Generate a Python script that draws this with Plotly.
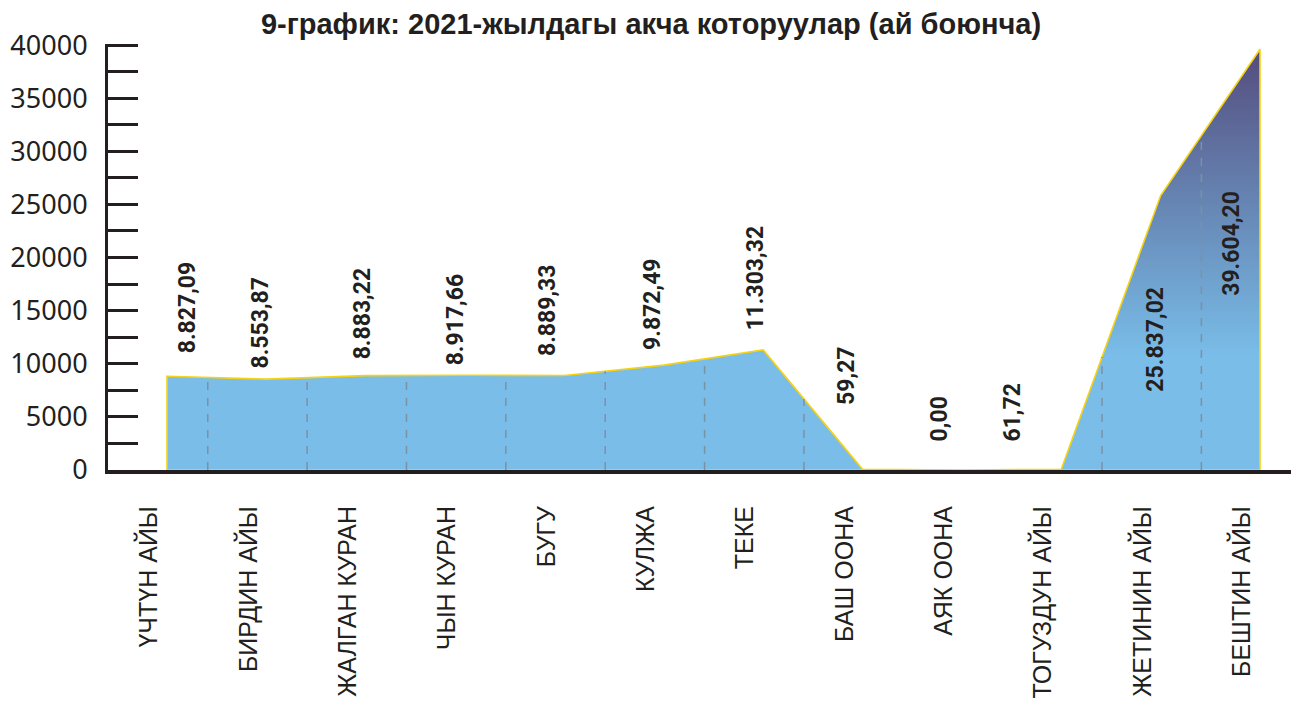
import numpy as np
import plotly.graph_objects as go

# ---- data ----
categories = ["ҮЧТҮН АЙЫ", "БИРДИН АЙЫ", "ЖАЛГАН КУРАН", "ЧЫН КУРАН", "БУГУ", "КУЛЖА",
              "ТЕКЕ", "БАШ ООНА", "АЯК ООНА", "ТОГУЗДУН АЙЫ", "ЖЕТИНИН АЙЫ", "БЕШТИН АЙЫ"]
values = [8827.09, 8553.87, 8883.22, 8917.66, 8889.33, 9872.49,
          11303.32, 59.27, 0.00, 61.72, 25837.02, 39604.20]
y_tickvals = [0, 5000, 10000, 15000, 20000, 25000, 30000, 35000, 40000]
y_ticktext = ["0", "5000", "10000", "15000", "20000", "25000", "30000", "35000", "40000"]
title_text = "9-график: 2021-жылдагы акча которуулар (ай боюнча)"

# ---- styles ----
label_dx = [20, -6, -3, -10, -17, -12, -8, -16, -22, -49, -6, -28]
label_dy = [21, 9, 14, 8, 18, 13, 17, 62, 27, 26, -198, -249]
grid_offset = 0.41
ink = "#231f20"

idx = list(range(len(values)))

def fmt(v):
    s = f"{v:,.2f}"
    return s.replace(",", "X").replace(".", ",").replace("X", ".")

fig = go.Figure()

# closed area polygon
px = [idx[0]] + idx + [idx[-1], idx[0]]
py = [0] + values + [0, 0]
fig.add_trace(go.Scatter(
    x=px, y=py, mode="lines", fill="toself",
    line=dict(color="#f5d312", width=1.6),
    fillgradient=dict(type="vertical",
                      colorscale=[[0, "#79bde8"], [0.27, "#79bde8"], [1, "#534b7c"]],
                      start=0, stop=40000),
    hoverinfo="skip", showlegend=False))

# dashed verticals inside the area
gx, gy = [], []
for i in idx[:-1]:
    xv = i + grid_offset
    yv = float(np.interp(xv, idx, values))
    if yv > 300:
        gx += [xv, xv, None]
        gy += [0, yv, None]
fig.add_trace(go.Scatter(x=gx, y=gy, mode="lines",
                         line=dict(color="#7d91a5", width=1.5, dash="8px,8px"),
                         hoverinfo="skip", showlegend=False))

# data labels
for i, v in enumerate(values):
    fig.add_annotation(x=i, y=v, xref="x", yref="y", text=fmt(v), showarrow=False,
                       textangle=-90, xanchor="center", yanchor="bottom",
                       xshift=label_dx[i], yshift=label_dy[i],
                       font=dict(family="Roboto, Liberation Sans, sans-serif", size=23,
                                 color=ink, weight="bold"))

fig.update_layout(
    width=1291, height=713,
    margin=dict(l=108, r=0, t=44, b=243, autoexpand=False),
    paper_bgcolor="white", plot_bgcolor="white",
    title=dict(text="<b>" + title_text + "</b>", x=651 / 1291, xref="container", xanchor="center",
               y=1 - 24 / 713, yref="container", yanchor="middle",
               font=dict(family="Liberation Sans, Arial, sans-serif", size=29, color=ink)),
    xaxis=dict(range=[-0.594, 11.312], showgrid=False, zeroline=False, automargin=False,
               showline=True, linecolor=ink, linewidth=4,
               tickmode="array", tickvals=idx, ticktext=categories, tickangle=-90,
               ticks="", ticklabelshift=-18, ticklabelstandoff=22,
               tickfont=dict(family="Liberation Sans, Arial, sans-serif", size=25, color=ink)),
    yaxis=dict(range=[0, 40100], showgrid=False, zeroline=False, automargin=False,
               showline=True, linecolor=ink, linewidth=3,
               tickmode="array", tickvals=y_tickvals, ticktext=y_ticktext,
               ticks="inside", ticklen=30, tickwidth=3, tickcolor=ink,
               minor=dict(dtick=2500, ticks="inside", ticklen=30, tickwidth=3, tickcolor=ink),
               ticklabelstandoff=12,
               tickfont=dict(family="Noto Sans, Open Sans, sans-serif", size=27, color=ink)),
)

fig.write_html("out.html", config={"displayModeBar": False},
               post_script="document.body.style.margin='0px';document.body.style.overflow='hidden';")
